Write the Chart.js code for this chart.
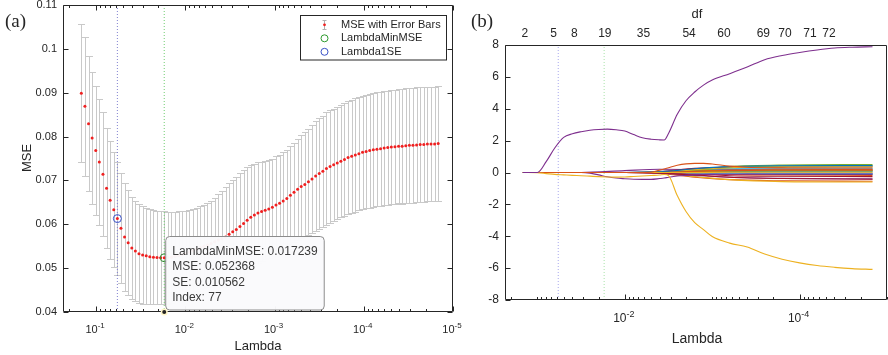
<!DOCTYPE html>
<html>
<head>
<meta charset="utf-8">
<script src="https://cdn.jsdelivr.net/npm/chart.js@4.4.1/dist/chart.umd.min.js"></script>
<style>
  body { margin: 0; background: #fff; width: 888px; height: 355px; overflow: hidden; position: relative; }
  canvas { position: absolute; top: 0; }
  #cv-a { left: 0; }
  #cv-b { left: 470px; }
</style>
</head>
<body>
<canvas id="cv-a" width="470" height="355" style="width:470px;height:355px"></canvas>
<canvas id="cv-b" width="418" height="355" style="width:418px;height:355px"></canvas>
<script>
// ---------- panel (a): cross-validated MSE ----------
const lambda = [
  0.14648, 0.13347, 0.12162, 0.11081, 0.10097, 0.092000, 0.083828, 0.076380, 0.069595, 0.063413,
  0.057779, 0.052647, 0.047970, 0.043708, 0.039826, 0.036287, 0.033063, 0.030127, 0.027450, 0.025012,
  0.022790, 0.020765, 0.018921, 0.017239, 0.015708, 0.014312, 0.013041, 0.011883, 0.010827, 0.0098650,
  0.0089888, 0.0081901, 0.0074626, 0.0067995, 0.0061956, 0.0056452, 0.0051436, 0.0046868, 0.0042704, 0.0038910,
  0.0035453, 0.0032304, 0.0029434, 0.0026819, 0.0024437, 0.0022266, 0.0020288, 0.0018486, 0.0016843, 0.0015347,
  0.0013983, 0.0012741, 0.0011609, 0.0010578, 0.00096385, 0.00087821, 0.00080021, 0.00072913, 0.00066434, 0.00060533,
  0.00055155, 0.00050255, 0.00045791, 0.00041722, 0.00038016, 0.00034640, 0.00031562, 0.00028758, 0.00026203, 0.00023875,
  0.00021755, 0.00019822, 0.00018061, 0.00016457, 0.00014995, 0.00013663, 0.00012449, 0.00011343, 0.00010335, 0.000094169,
  0.000085804, 0.000078183, 0.000071237, 0.000064908, 0.000059142, 0.000053888, 0.000049101, 0.000044738, 0.000040764, 0.000037144,
  0.000033843, 0.000030837, 0.000028098, 0.000025601, 0.000023327, 0.000021255, 0.000019366, 0.000017646, 0.000016078, 0.000014650
];
const mse = [
  0.0899, 0.0869, 0.0829, 0.0797, 0.0768, 0.0742, 0.0714, 0.0682, 0.0655, 0.0633,
  0.0613, 0.0591, 0.0571, 0.0558, 0.0546, 0.0539, 0.0533, 0.0530, 0.0528, 0.0526,
  0.0525, 0.0524, 0.05238, 0.052368, 0.0524, 0.0525, 0.0527, 0.0529, 0.0531, 0.0534,
  0.0537, 0.0540, 0.0543, 0.0547, 0.0550, 0.0553, 0.0556, 0.0560, 0.0564, 0.0567,
  0.0571, 0.0577, 0.0583, 0.0588, 0.0595, 0.0602, 0.0609, 0.0616, 0.0621, 0.0626,
  0.0629, 0.0632, 0.0635, 0.0639, 0.0644, 0.0648, 0.0653, 0.0659, 0.0666, 0.0673,
  0.0680, 0.0686, 0.0691, 0.0697, 0.0703, 0.0710, 0.0716, 0.0721, 0.0727, 0.0732,
  0.0736, 0.0740, 0.0744, 0.0748, 0.0752, 0.0755, 0.0758, 0.0761, 0.0764, 0.0766,
  0.0768, 0.0770, 0.0771, 0.0772, 0.0774, 0.0775, 0.0776, 0.0777, 0.0778, 0.0778,
  0.0779, 0.0780, 0.0780, 0.0781, 0.0782, 0.0782, 0.0783, 0.0783, 0.0783, 0.0784
];
const se = [
  0.0158, 0.0158, 0.0154, 0.0151, 0.0147, 0.0144, 0.0141, 0.0137, 0.0134, 0.0131,
  0.0128, 0.0125, 0.0122, 0.0120, 0.0117, 0.0115, 0.0113, 0.0111, 0.0110, 0.0108,
  0.0107, 0.0106, 0.0106, 0.010562, 0.0105, 0.0104, 0.0102, 0.0101, 0.0099, 0.0097,
  0.0095, 0.0094, 0.0094, 0.0094, 0.0095, 0.0096, 0.0098, 0.0101, 0.0105, 0.0109,
  0.0113, 0.0116, 0.0118, 0.0120, 0.0121, 0.0122, 0.0121, 0.0119, 0.0117, 0.0115,
  0.0113, 0.0112, 0.0111, 0.0111, 0.0111, 0.0111, 0.0111, 0.0111, 0.0112, 0.0113,
  0.0115, 0.0117, 0.0119, 0.0121, 0.0123, 0.0125, 0.0126, 0.0127, 0.0128, 0.0128,
  0.0128, 0.0128, 0.0128, 0.0128, 0.0129, 0.0129, 0.0129, 0.0129, 0.0129, 0.0129,
  0.0130, 0.0130, 0.0130, 0.0130, 0.0130, 0.0130, 0.0130, 0.0130, 0.0130, 0.0131,
  0.0131, 0.0131, 0.0131, 0.0131, 0.0131, 0.0131, 0.0131, 0.0131, 0.0131, 0.0131
];
const lambdaMinMSE = 0.017239;
const mseMin = 0.052368;
const seMin = 0.010562;
const indexMin = 77;
const lambda1SE = 0.057779;
const mse1SE = 0.0613;
const mseTicks = [0.04, 0.05, 0.06, 0.07, 0.08, 0.09, 0.1, 0.11];
const mseTickLabels = ['0.04', '0.05', '0.06', '0.07', '0.08', '0.09', '0.1', '0.11'];
const decadesA = [-1, -2, -3, -4, -5];

// ---------- panel (b): coefficient paths ----------
const pathLambda = [
  0.1465, 0.1, 0.07943, 0.0631, 0.05012, 0.03981, 0.03162, 0.02512, 0.01995, 0.01585,
  0.01259, 0.01, 0.007943, 0.00631, 0.005012, 0.003981, 0.003548, 0.003162, 0.002512, 0.001995,
  0.001585, 0.001259, 0.001, 0.000631, 0.0003981, 0.0002512, 0.0001585, 0.0001, 0.0000631, 0.00003981,
  0.00002512, 0.00001465
];
const coefPurple = [
  0, 0, 0.68, 1.55, 2.2, 2.43, 2.56, 2.65, 2.70, 2.72,
  2.68, 2.60, 2.38, 2.18, 2.09, 2.05, 2.04, 2.45, 3.65, 4.5,
  5.05, 5.48, 5.8, 6.2, 6.62, 7.08, 7.34, 7.53, 7.69, 7.81,
  7.86, 7.89
];
const coefYellow = [
  0, -0.02, -0.07, -0.12, -0.15, -0.18, -0.2, -0.23, -0.26, -0.28,
  -0.29, -0.28, -0.25, -0.22, -0.19, -0.16, -0.13, -0.2, -1.45, -2.45,
  -3.15, -3.58, -4.02, -4.43, -4.68, -5.12, -5.44, -5.67, -5.84, -5.95,
  -6.03, -6.08
];
const coefOrange = [
  0, 0, 0, 0, 0, 0, 0, 0, 0, 0,
  0, 0, 0, 0, 0.02, 0.15, 0.22, 0.3, 0.45, 0.54,
  0.57, 0.57, 0.53, 0.4, 0.33, 0.3, 0.29, 0.28, 0.28, 0.28,
  0.28, 0.28
];
const coefPurpleDip = [
  0, 0, 0, 0, 0, 0, 0, -0.04, -0.15, -0.27,
  -0.35, -0.39, -0.42, -0.43, -0.43, -0.38, -0.35, -0.3, -0.22, -0.18,
  -0.15, -0.13, -0.12, -0.11, -0.1, -0.1, -0.1, -0.1, -0.1, -0.1,
  -0.1, -0.1
];
// smaller coefficients, read on a coarser lambda grid
const smallLambda = [0.1465, 0.03162, 0.01, 0.003981, 0.001585, 0.000631, 0.0001585, 0.00001465];
const smallCoefs = [
  [0, 0, 0, 0.04, 0.14, 0.2, 0.22, 0.22],
  [0, 0, 0, -0.06, -0.3, -0.45, -0.52, -0.55],
  [0, 0, 0, -0.03, -0.25, -0.45, -0.57, -0.6],
  [0, 0, 0.12, 0.2, 0.18, 0.15, 0.14, 0.14],
  [0, 0, 0, 0.03, 0.2, 0.38, 0.47, 0.5],
  [0, 0, 0, 0.06, 0.18, 0.24, 0.26, 0.27],
  [0, 0, 0, 0.06, 0.26, 0.33, 0.35, 0.36],
  [0, 0, 0, 0, -0.04, -0.09, -0.12, -0.13],
  [0, 0, 0, 0.02, 0.1, 0.15, 0.17, 0.18],
  [0, 0, 0, 0.02, 0.06, 0.1, 0.12, 0.12],
  [0, 0, 0, -0.04, -0.18, -0.3, -0.37, -0.4],
  [0, 0, 0, 0.02, 0.14, 0.3, 0.4, 0.44],
  [0, 0, 0, 0, 0.03, 0.05, 0.07, 0.08],
  [0, 0, 0, -0.02, -0.1, -0.2, -0.24, -0.26],
  [0, 0, 0, 0.02, 0.05, 0.04, 0.03, 0.03],
  [0, 0, 0, 0, -0.05, -0.12, -0.16, -0.18],
  [0, 0, 0, 0.03, 0.18, 0.3, 0.35, 0.37],
  [0, 0, 0, 0, -0.02, -0.05, -0.06, -0.06],
  [0, 0, 0, 0, 0.05, 0.08, 0.1, 0.1],
  [0, 0, 0, 0, -0.03, -0.05, -0.06, -0.07],
  [0, 0, 0, -0.04, -0.16, -0.3, -0.38, -0.42],
  [0, 0, 0, 0.04, 0.24, 0.37, 0.42, 0.43],
  [0, 0, 0, 0, 0.07, 0.12, 0.14, 0.15],
  [0, 0, 0, 0, 0, 0.02, 0.02, 0.02]
];
const coefTicks = [-8, -6, -4, -2, 0, 2, 4, 6, 8];
const decadesB = [-2, -4];
const dfLambda = [0.139, 0.0653, 0.0379, 0.01693, 0.00611, 0.00184, 0.000733, 0.00026, 0.000147, 0.0000762, 0.0000462];
const dfLabels = ['2', '5', '8', '19', '35', '54', '60', '69', '70', '71', '72'];

// MATLAB default line colours
const colorOrder = ['#0072BD', '#D95319', '#EDB120', '#7E2F8E', '#77AC30', '#4DBEEE', '#A2142F'];
const AXIS = '#262626';
const SANS = '"Liberation Sans", Arial, Helvetica, sans-serif';
const SERIF = '"Liberation Serif", "Times New Roman", serif';
const LAMBDA_MIN = 1e-5;
const LAMBDA_MAX = 0.235;

/**
 * Draw "10^exp" centred at cx
 */
function drawPow(ctx, cx, baseline, exp, size) {
  const supSize = Math.round(size * 0.75);
  ctx.font = `${size}px ${SANS}`;
  const w1 = ctx.measureText('10').width;
  ctx.font = `${supSize}px ${SANS}`;
  const w2 = ctx.measureText(String(exp)).width;
  const x0 = cx - (w1 + w2) / 2;
  ctx.textAlign = 'left';
  ctx.textBaseline = 'alphabetic';
  ctx.font = `${size}px ${SANS}`;
  ctx.fillText('10', x0, baseline);
  ctx.font = `${supSize}px ${SANS}`;
  ctx.fillText(String(exp), x0 + w1, baseline - size * 0.45);
}

/**
 * MATLAB style frame: box, inward ticks, log minor ticks
 */
function drawFrame(chart, cfg) {
  const { ctx, chartArea: a, scales: { x, y } } = chart;
  const L = a.left + 0.5, R = a.right - 0.5, T = a.top + 0.5, B = a.bottom - 0.5;
  ctx.save();
  ctx.strokeStyle = AXIS;
  ctx.lineWidth = 1;
  ctx.beginPath();
  ctx.moveTo(L, T); ctx.lineTo(L, B); ctx.lineTo(R, B);
  ctx.moveTo(R, B); ctx.lineTo(R, T); ctx.lineTo(L, T);
  cfg.yTicks.forEach(v => {
    const py = Math.round(y.getPixelForValue(v)) + 0.5;
    ctx.moveTo(L, py); ctx.lineTo(L + 5, py);
    if (cfg.box) { ctx.moveTo(R, py); ctx.lineTo(R - 5, py); }
  });
  for (let e = -5; e <= 0; e++) {
    for (let m = 1; m <= 9; m++) {
      const v = m * Math.pow(10, e);
      if (v < x.min * 0.999 || v > x.max) continue;
      const major = m === 1 && cfg.majorX.includes(e);
      const len = major ? 5 : 2.5;
      const px = Math.round(x.getPixelForValue(v)) + 0.5;
      ctx.moveTo(px, B); ctx.lineTo(px, B - len);
      if (cfg.box) { ctx.moveTo(px, T); ctx.lineTo(px, T + len); }
    }
  }
  ctx.stroke();

  // tick labels
  ctx.fillStyle = AXIS;
  ctx.font = `${cfg.tickSize}px ${SANS}`;
  ctx.textAlign = 'right';
  ctx.textBaseline = 'middle';
  cfg.yTicks.forEach((v, i) => {
    ctx.fillText(cfg.yLabels[i], a.left - 6, y.getPixelForValue(v));
  });
  cfg.majorX.forEach(e => {
    drawPow(ctx, x.getPixelForValue(Math.pow(10, e)) - 1, cfg.xLabelBase, e, cfg.tickSize);
  });
  ctx.restore();
}

// error bars under the MSE dots
const errorBarPlugin = {
  id: 'errorBars',
  beforeDatasetsDraw(chart) {
    const { ctx, scales: { x, y } } = chart;
    ctx.save();
    ctx.strokeStyle = '#c9c9c9';
    ctx.lineWidth = 1;
    ctx.beginPath();
    lambda.forEach((l, i) => {
      const px = Math.round(x.getPixelForValue(l)) + 0.5;
      const top = Math.round(y.getPixelForValue(mse[i] + se[i])) + 0.5;
      const bot = Math.round(y.getPixelForValue(mse[i] - se[i])) + 0.5;
      ctx.moveTo(px, top); ctx.lineTo(px, bot);
      ctx.moveTo(px - 3.5, top); ctx.lineTo(px + 3.5, top);
      ctx.moveTo(px - 3.5, bot); ctx.lineTo(px + 3.5, bot);
    });
    ctx.stroke();
    ctx.restore();
  }
};

const decorPluginA = {
  id: 'decorA',
  afterDraw(chart) {
    const { ctx, scales: { x, y } } = chart;
    drawFrame(chart, {
      box: true, yTicks: mseTicks, yLabels: mseTickLabels, majorX: decadesA,
      tickSize: 11, xLabelBase: 333
    });
    ctx.save();
    ctx.fillStyle = AXIS;
    // axis titles
    ctx.font = `13px ${SANS}`;
    ctx.textAlign = 'center';
    ctx.textBaseline = 'alphabetic';
    ctx.fillText('Lambda', 258, 350);
    ctx.save();
    ctx.translate(27, 158);
    ctx.rotate(-Math.PI / 2);
    ctx.textBaseline = 'middle';
    ctx.fillText('MSE', 0, 0);
    ctx.restore();
    ctx.font = `19px ${SERIF}`;
    ctx.textAlign = 'left';
    ctx.fillText('(a)', 5, 27);

    // legend
    ctx.fillStyle = '#fff';
    ctx.fillRect(300.5, 15.5, 146, 44.5);
    ctx.strokeStyle = AXIS;
    ctx.lineWidth = 1;
    ctx.strokeRect(300.5, 15.5, 146, 44.5);
    ctx.strokeStyle = '#b0b0b0';
    ctx.beginPath();
    ctx.moveTo(324.5, 20); ctx.lineTo(324.5, 29.5);
    ctx.moveTo(322.5, 20.5); ctx.lineTo(326.5, 20.5);
    ctx.moveTo(322.5, 29.5); ctx.lineTo(326.5, 29.5);
    ctx.stroke();
    ctx.fillStyle = '#f02020';
    ctx.beginPath(); ctx.arc(324.5, 24.8, 1.4, 0, Math.PI * 2); ctx.fill();
    ctx.strokeStyle = '#2e9a2e';
    ctx.beginPath(); ctx.arc(324.5, 38.3, 3.5, 0, Math.PI * 2); ctx.stroke();
    ctx.strokeStyle = '#3a52c8';
    ctx.beginPath(); ctx.arc(324.5, 51.8, 3.5, 0, Math.PI * 2); ctx.stroke();
    ctx.fillStyle = AXIS;
    ctx.font = `11px ${SANS}`;
    ctx.textBaseline = 'middle';
    ctx.fillText('MSE with Error Bars', 341, 24.8);
    ctx.fillText('LambdaMinMSE', 341, 38.3);
    ctx.fillText('Lambda1SE', 341, 51.8);

    // datatip at the minimum
    const ax = x.getPixelForValue(lambdaMinMSE);
    const ay = y.getPixelForValue(0.04);
    const bx = ax + 1.5, by = 236.5, bw = 158.5, bh = 73.5, r = 4;
    ctx.beginPath();
    ctx.moveTo(bx + r, by);
    ctx.arcTo(bx + bw, by, bx + bw, by + bh, r);
    ctx.arcTo(bx + bw, by + bh, bx, by + bh, r);
    ctx.arcTo(bx, by + bh, bx, by, r);
    ctx.arcTo(bx, by, bx + bw, by, r);
    ctx.closePath();
    ctx.fillStyle = 'rgba(250,250,252,0.97)';
    ctx.fill();
    ctx.strokeStyle = '#8c8c8c';
    ctx.stroke();
    ctx.fillStyle = '#3a3a3a';
    ctx.font = `12px ${SANS}`;
    ctx.textBaseline = 'alphabetic';
    ctx.fillText('LambdaMinMSE: ' + lambdaMinMSE.toFixed(6), bx + 6.5, 255);
    ctx.fillText('MSE: ' + mseMin.toFixed(6), bx + 6.5, 270.4);
    ctx.fillText('SE: ' + seMin.toFixed(6), bx + 6.5, 285.8);
    ctx.fillText('Index: ' + indexMin, bx + 6.5, 301.2);
    ctx.fillStyle = '#fff6c8';
    ctx.beginPath(); ctx.arc(ax, ay, 3.5, 0, Math.PI * 2); ctx.fill();
    ctx.fillStyle = '#222';
    ctx.beginPath(); ctx.arc(ax, ay, 2, 0, Math.PI * 2); ctx.fill();
    ctx.restore();
  }
};

const decorPluginB = {
  id: 'decorB',
  afterDraw(chart) {
    const { ctx, chartArea: a, scales: { x } } = chart;
    drawFrame(chart, {
      box: false, yTicks: coefTicks, yLabels: coefTicks.map(String), majorX: decadesB,
      tickSize: 12, xLabelBase: 322
    });
    ctx.save();
    ctx.fillStyle = AXIS;
    ctx.font = `12px ${SANS}`;
    ctx.textAlign = 'center';
    ctx.textBaseline = 'alphabetic';
    dfLambda.forEach((l, i) => ctx.fillText(dfLabels[i], x.getPixelForValue(l), 37));
    ctx.font = `13px ${SANS}`;
    ctx.fillText('df', 227, 18);
    ctx.font = `14px ${SANS}`;
    ctx.fillText('Lambda', 227, 343);
    ctx.font = `19px ${SERIF}`;
    ctx.textAlign = 'left';
    ctx.fillText('(b)', 1, 27);
    ctx.restore();
  }
};

function vline(l, y0, y1, color) {
  return {
    data: [{ x: l, y: y0 }, { x: l, y: y1 }],
    showLine: true, borderColor: color, borderWidth: 1, borderDash: [1, 2],
    pointRadius: 0
  };
}

function logX() {
  return { type: 'logarithmic', reverse: true, min: LAMBDA_MIN, max: LAMBDA_MAX, display: false };
}

const commonOptions = {
  responsive: false,
  animation: false,
  devicePixelRatio: 1,
  events: [],
  plugins: { legend: { display: false }, tooltip: { enabled: false } }
};

new Chart(document.getElementById('cv-a'), {
  type: 'scatter',
  data: {
    datasets: [
      { data: [{ x: lambdaMinMSE, y: mseMin }], pointRadius: 4, borderColor: '#2e8b2e', borderWidth: 1, backgroundColor: 'rgba(0,0,0,0)' },
      { data: [{ x: lambda1SE, y: mse1SE }], pointRadius: 4, borderColor: '#3a52c8', borderWidth: 1, backgroundColor: 'rgba(0,0,0,0)' },
      { data: lambda.map((l, i) => ({ x: l, y: mse[i] })), pointRadius: 1.5, borderWidth: 0, backgroundColor: '#f02020' },
      vline(lambda1SE, 0.04, 0.11, '#8080d0'),
      vline(lambdaMinMSE, 0.04, 0.11, '#70cc70')
    ]
  },
  options: {
    ...commonOptions,
    layout: { padding: { left: 63, right: 17, top: 5, bottom: 43 } },
    scales: { x: logX(), y: { type: 'linear', min: 0.04, max: 0.11, display: false } }
  },
  plugins: [errorBarPlugin, decorPluginA]
});

const pathSets = [];
smallCoefs.forEach((vals, i) => {
  pathSets.push({
    data: smallLambda.map((l, k) => ({ x: l, y: vals[k] })),
    borderColor: colorOrder[i % colorOrder.length]
  });
});
pathSets.push({ data: pathLambda.map((l, k) => ({ x: l, y: coefPurpleDip[k] })), borderColor: '#7E2F8E' });
pathSets.push({ data: pathLambda.map((l, k) => ({ x: l, y: coefOrange[k] })), borderColor: '#D95319' });
pathSets.push({ data: pathLambda.map((l, k) => ({ x: l, y: coefYellow[k] })), borderColor: '#EDB120' });
pathSets.push({ data: pathLambda.map((l, k) => ({ x: l, y: coefPurple[k] })), borderColor: '#7E2F8E' });

new Chart(document.getElementById('cv-b'), {
  type: 'scatter',
  data: {
    datasets: [
      ...pathSets.reverse().map(d => ({
        ...d, showLine: true, pointRadius: 0, borderWidth: 1.1, cubicInterpolationMode: 'monotone'
      })),
      vline(lambda1SE, -8, 8, '#a8a8ee'),
      vline(lambdaMinMSE, -8, 8, '#a8e2a8')
    ]
  },
  options: {
    ...commonOptions,
    layout: { padding: { left: 35, right: 1, top: 45, bottom: 55 } },
    scales: { x: logX(), y: { type: 'linear', min: -8, max: 8, display: false } }
  },
  plugins: [decorPluginB]
});
</script>
</body>
</html>
